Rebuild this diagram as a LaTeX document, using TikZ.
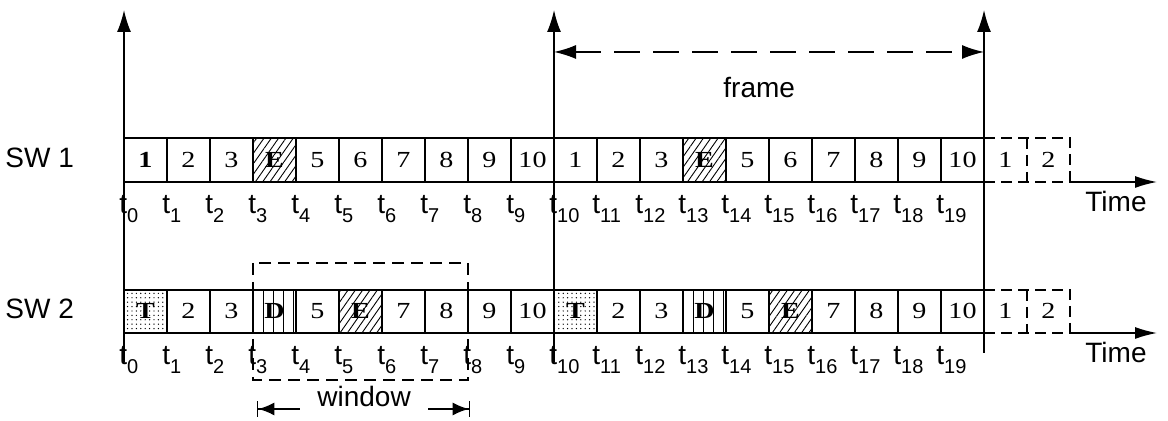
\documentclass[tikz,border=0pt]{standalone}
\usepackage{fontspec}
\setmainfont{Liberation Serif}
\newfontfamily\arialfont{Liberation Sans}
\newfontfamily\cellfont[FakeStretch=1.22]{Liberation Serif}
\usetikzlibrary{arrows.meta,patterns.meta}
\newcommand{\tlab}[1]{t\raisebox{-4.5pt}{\fontsize{10}{12}\selectfont #1}}
\begin{document}
\begin{tikzpicture}[x=0.5pt,y=-0.5pt,
  axis/.style={line width=0.75pt},
  uparrow/.style={axis,-{Latex[length=11pt,width=7pt]}},
  cellline/.style={line width=0.6pt},
  dashcell/.style={line width=0.6pt,dash pattern=on 5.5pt off 3pt},
  windowbox/.style={line width=0.7pt,dash pattern=on 6pt off 3.5pt},
  framearrow/.style={line width=0.7pt,dash pattern=on 13pt off 6.5pt,{Latex[length=11pt,width=7pt]}-{Latex[length=11pt,width=7pt]}},
  celltext/.style={font=\cellfont\fontsize{11.5}{13}\selectfont,inner sep=0pt,anchor=base},
  tlabel/.style={font=\arialfont\fontsize{14}{16}\selectfont,inner sep=0pt,anchor=base west},
  bigtext/.style={font=\arialfont\fontsize{14}{16}\selectfont,inner sep=0pt,anchor=base west},
  hatch/.style={pattern={Lines[angle=55,distance=3pt,line width=0.45pt]}},
  dotty/.style={pattern={Dots[distance=2.2pt,radius=0.35pt]}}
]
\useasboundingbox (0,0) rectangle (1168,421);

% coordinates
\coordinate (ax0b) at (124,362); \coordinate (ax0t) at (124,10);
\coordinate (ax1b) at (554,362); \coordinate (ax1t) at (554,10);
\coordinate (ax2b) at (984,353); \coordinate (ax2t) at (984,10);
\coordinate (fl) at (554,52); \coordinate (fr) at (984,52);

% ---------- patterned cells ----------
\foreach \k in {3,13} \fill[hatch] ({124+43*\k},138) rectangle ({167+43*\k},182);
\foreach \k in {5,15} \fill[hatch] ({124+43*\k},290) rectangle ({167+43*\k},333);
\foreach \k in {0,10} \fill[dotty] ({124+43*\k},290) rectangle ({167+43*\k},333);

% ---------- rows ----------
\foreach \top/\bot in {138/182,290/333}{
  \draw[cellline] (124,\top) -- (984,\top);
  \foreach \k in {1,...,19} \draw[cellline] ({124+43*\k},\top) -- ({124+43*\k},\bot);
  \draw[dashcell] (984,\top) -- (1070,\top) -- (1070,\bot);
  \draw[dashcell] (1027,\top) -- (1027,\bot);
  \draw[dashcell] (984,\bot) -- (1070,\bot);
}
% D cell stripes
\foreach \k in {3,13}
  \foreach \d in {10,20,30,40}
    \draw[line width=0.5pt] ({124+43*\k+\d},290) -- ({124+43*\k+\d},333);

% ---------- cell texts ----------
\foreach \k/\v in {0/{\bfseries 1},1/2,2/3,3/{\bfseries E},4/5,5/6,6/7,7/8,8/9,9/10,10/1,11/2,12/3,13/{\bfseries E},14/5,15/6,16/7,17/8,18/9,19/10,20/1,21/2}
  \node[celltext] (a\k) at ({145.5+43*\k},167.5) {\v};
\foreach \k/\v in {0/{\bfseries T},1/2,2/3,3/{\bfseries D},4/5,5/{\bfseries E},6/7,7/8,8/9,9/10,10/{\bfseries T},11/2,12/3,13/{\bfseries D},14/5,15/{\bfseries E},16/7,17/8,18/9,19/10,20/1,21/2}
  \node[celltext] (b\k) at ({145.5+43*\k},318.5) {\v};

% ---------- time axes ----------
\coordinate (h1a) at (124,182); \coordinate (h1b) at (984,182);
\coordinate (h1c) at (1070,182); \coordinate (h1d) at (1157,182);
\coordinate (h2a) at (124,333); \coordinate (h2b) at (984,333);
\coordinate (h2c) at (1070,333); \coordinate (h2d) at (1157,333);
\draw[axis] (h1a) -- (h1b);
\draw[axis,-{Latex[length=11pt,width=6pt]}] (h1c) -- (h1d);
\draw[axis] (h2a) -- (h2b);
\draw[axis,-{Latex[length=11pt,width=6pt]}] (h2c) -- (h2d);

% vertical axes
\draw[uparrow] (ax0b) -- (ax0t);
\draw[uparrow] (ax1b) -- (ax1t);
\draw[uparrow] (ax2b) -- (ax2t);

% frame arrow
\draw[framearrow] (fl) -- (fr);
\node[bigtext] (frame) at (723,98) {frame};

% t labels
\foreach \k in {0,...,19}{
  \node[tlabel] (ta\k) at ({124+43*\k-5},213.5) {\tlab{\k}};
  \node[tlabel] (tb\k) at ({124+43*\k-5},364.5) {\tlab{\k}};
}

% labels
\node[bigtext] (sw1) at (5,168) {SW 1};
\node[bigtext] (sw2) at (5,319) {SW 2};
\node[bigtext] (time1) at (1085,212) {Time};
\node[bigtext] (time2) at (1085,363) {Time};

% window
\draw[windowbox] (253,263) rectangle (468,380);
\coordinate (wl) at (257,409); \coordinate (wl2) at (300,409);
\coordinate (wr2) at (428,409); \coordinate (wr) at (470,409);
\draw[line width=0.7pt,{Bar[width=8pt]Latex[length=8pt,width=6.5pt]}-] (wl) -- (wl2);
\draw[line width=0.7pt,-{Latex[length=8pt,width=6.5pt]Bar[width=8pt]}] (wr2) -- (wr);
\node[bigtext] (window) at (317,407) {window};
\end{tikzpicture}
\end{document}
